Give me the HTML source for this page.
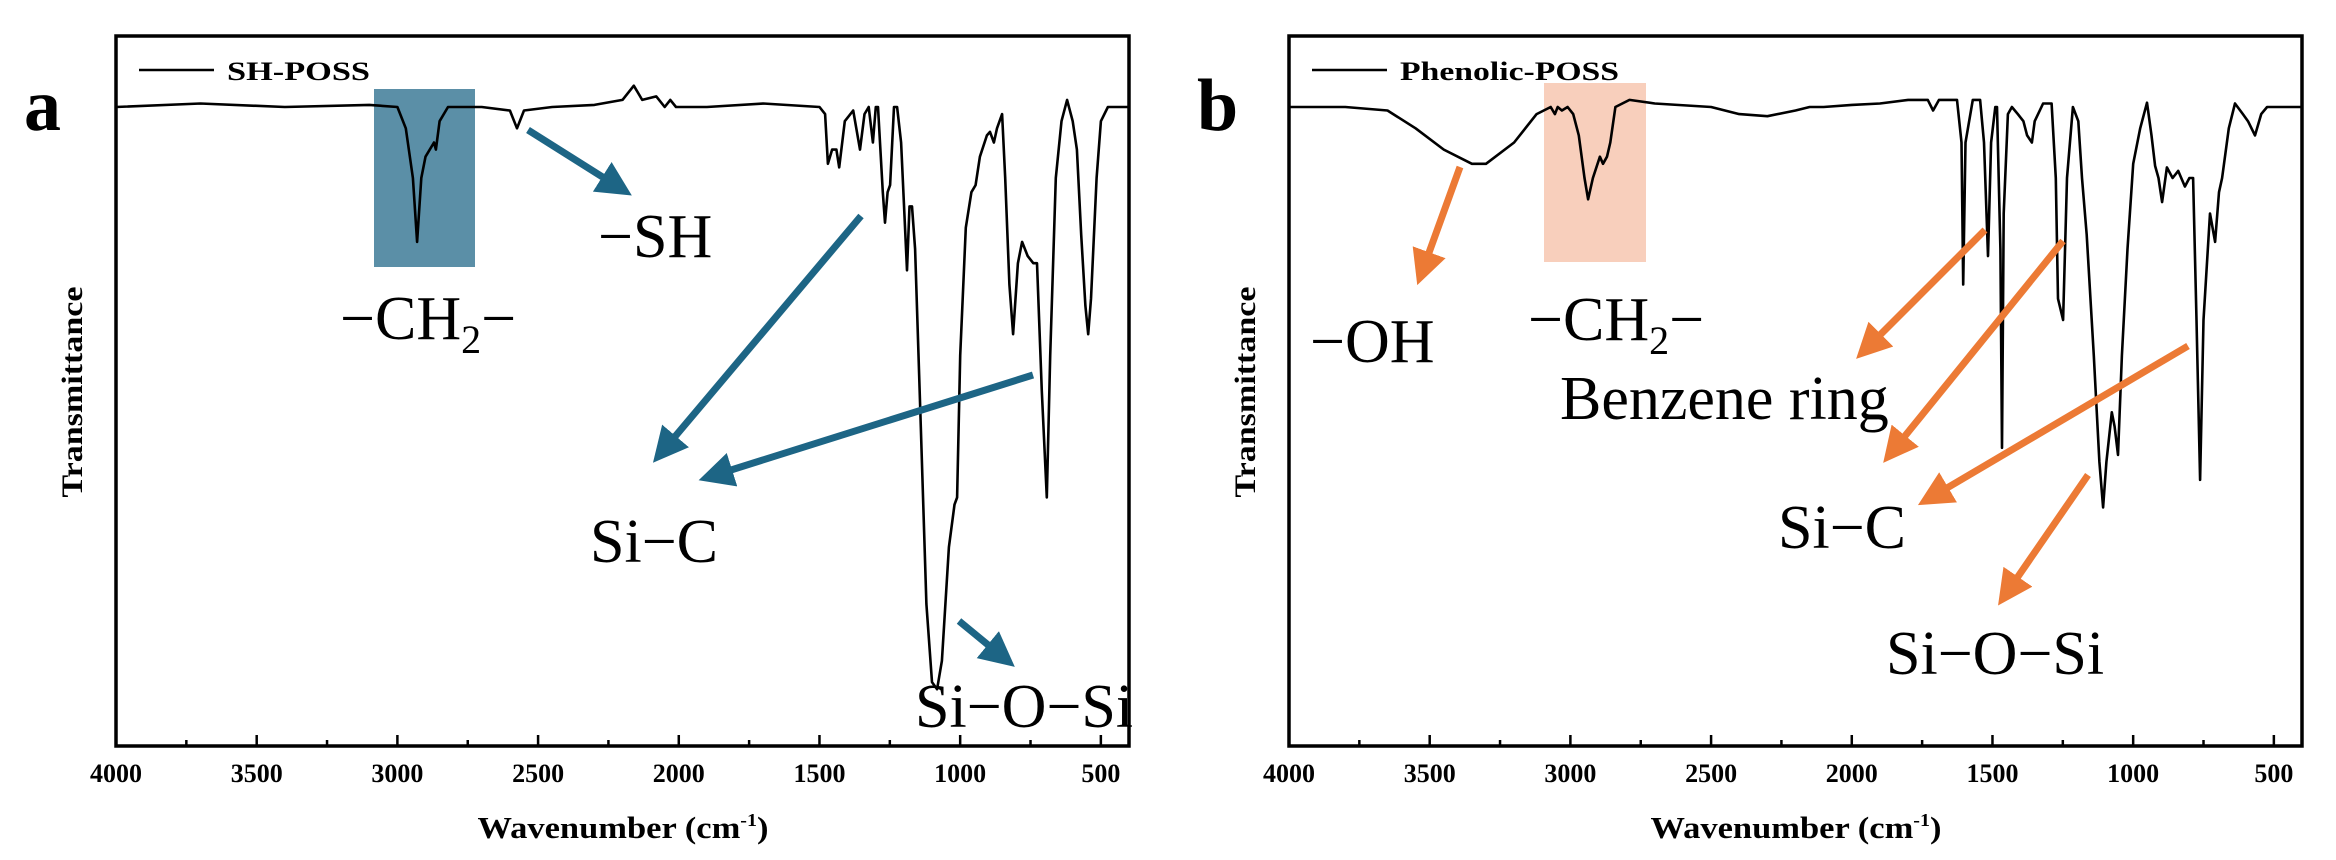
<!DOCTYPE html>
<html><head><meta charset="utf-8"><style>
html,body{margin:0;padding:0;background:#fff;}
svg{display:block;}
text{font-family:"Liberation Serif",serif;}
</style></head><body>
<svg id="fig" width="2336" height="860" viewBox="0 0 2336 860" xmlns="http://www.w3.org/2000/svg">
<defs>
<marker id="hb" markerWidth="6" markerHeight="6" refX="3" refY="2.5" orient="auto" markerUnits="strokeWidth"><path d="M0,0 L5,2.5 L0,5 Z" fill="#1d6585"/></marker>
<marker id="ho" markerWidth="6" markerHeight="6" refX="3" refY="2.5" orient="auto" markerUnits="strokeWidth"><path d="M0,0 L5,2.5 L0,5 Z" fill="#ec7a35"/></marker>
</defs>
<g id="panelA"></g>
<g id="panelB"></g>
</svg>
<script>
const tickValues = [4000,3500,3000,2500,2000,1500,1000,500];
const tickLabels = ["4000","3500","3000","2500","2000","1500","1000","500"];
const waveA = [4000,3700,3400,3100,3000,2970,2945,2930,2915,2900,2870,2863,2850,2820,2700,2600,2575,2550,2450,2300,2200,2160,2130,2080,2050,2030,2010,1900,1700,1500,1480,1470,1455,1440,1430,1410,1380,1356,1340,1325,1310,1300,1292,1275,1267,1258,1249,1235,1224,1210,1189,1180,1171,1160,1140,1120,1100,1082,1065,1040,1020,1011,1000,980,960,945,930,905,894,880,869,851,840,825,812,795,780,760,740,727,710,692,680,660,640,620,600,585,570,555,545,535,515,500,475,400];
const transA = [90,90.5,90,90.3,90,87,80,71,80,83,85,84,88,90,90,89.5,87,89.5,90,90.3,91,93,91,91.5,90,91,90,90,90.5,90,89,82,84,84,81.5,88,89.5,84,89,90,85,90,90,78,73.7,78,79,90,90,85,67,76,76,70,45,20,9,8,12,28,34,35,55,73,78,79,83,86,86.5,85,87,89,80,65,58,68,71,69,68,68,50,35,55,80,88,91,88,84,72,62,58,63,80,88,90,90];
const waveB = [4000,3800,3650,3550,3450,3350,3300,3200,3120,3070,3055,3045,3030,3010,2990,2970,2950,2937,2920,2895,2884,2870,2858,2840,2790,2700,2500,2400,2300,2200,2150,2100,2000,1900,1800,1730,1711,1690,1626,1610,1604,1596,1570,1544,1530,1516,1505,1490,1484,1472,1466,1460,1445,1431,1410,1390,1377,1360,1350,1320,1290,1275,1267,1249,1235,1214,1195,1182,1165,1140,1120,1107,1095,1076,1066,1054,1040,1020,1000,975,951,935,922,910,897,880,860,840,816,800,787,775,762,750,727,709,695,684,660,638,610,592,567,545,524,400];
const transB = [90,90,89.5,87,84,82,82,85,89,90,89,90,89.5,90,89,86,80,77,80,83,82,83,85,90,91,90.5,90,89,88.7,89.5,90,90,90.3,90.5,91,91,89.5,91,91,85,65,85,91,91,85,69,85,90,90,70,42,75,89,90,89,88,86,85,88,90.5,90.5,80,63,60,80,90,88,80,72,55,40,33.6,40,47,45,41,55,70,82,87,90.6,86,81.7,80,76.6,81.5,80,81,78.8,80,80,60,37.5,60,75,71,78,80,87,90.5,89,88,86,89,90,90];

const NS="http://www.w3.org/2000/svg";
function mk(parent,tag,attrs,txt){const e=document.createElementNS(NS,tag);for(const k in attrs)e.setAttribute(k,attrs[k]);if(txt!==undefined)e.textContent=txt;parent.appendChild(e);return e;}

function panel(gid,L,legendText,legendLen,waves,trans,letter,hl,hlColor){
  const g=document.getElementById(gid);
  const R=L+1013,T=36,B=746;
  const x=w=>L+(4000-w)*(R-L)/3600;
  const y=v=>B-v*(B-T)/100;
  const r=mk(g,'rect',{x:hl[0],y:hl[1],width:hl[2],height:hl[3],fill:hlColor});
  
  
  const pts=waves.map((w,i)=>x(w).toFixed(1)+','+y(trans[i]).toFixed(1)).join(' ');
  const pl=mk(g,'polyline',{points:pts,fill:'none',stroke:'#000','stroke-width':2.6,'stroke-linejoin':'round'});
  
  
  const fr=mk(g,'rect',{x:L,y:T,width:R-L,height:B-T,fill:'none',stroke:'#000','stroke-width':3.5});
  
  
  for(let w=3750;w>=500;w-=250){
    const major=(w%500===0);
    const t=mk(g,'line',{x1:x(w),x2:x(w),y1:B,y2:B-(major?11:6),stroke:'#000','stroke-width':2.5});
    
    
  }
  tickValues.forEach((v,i)=>{
    const t=mk(g,'text',{x:x(v),y:782,'text-anchor':'middle','font-size':26,'font-weight':'bold'},tickLabels[i]);
    
    
  });
  const xt=mk(g,'text',{x:(L+R)/2-145,y:838,'font-size':31,'font-weight':'bold',textLength:291,lengthAdjust:'spacingAndGlyphs'});
  
  
  xt.innerHTML='Wavenumber (cm<tspan dy="-12" font-size="18">-1</tspan><tspan dy="12">)</tspan>';
  const yt=mk(g,'text',{x:0,y:0,transform:`translate(${L-34},392) rotate(-90)`,'text-anchor':'middle','font-size':30,'font-weight':'bold',textLength:211,lengthAdjust:'spacingAndGlyphs'},'Transmittance');
  
  
  const ll=mk(g,'line',{x1:L+23,x2:L+98,y1:70,y2:70,stroke:'#000','stroke-width':2.6});
  
  
  const lt=mk(g,'text',{x:L+111,y:80,'font-size':26,'font-weight':'bold',textLength:legendLen,lengthAdjust:'spacingAndGlyphs'},legendText);
  
  
  const pl2=mk(g,'text',{x:L-92,y:130,'font-size':74,'font-weight':'bold'},letter);
  
  
}
panel('panelA',116,'SH-POSS',143,waveA,transA,'a',[374,89,101,178],'#5b8fa7');
panel('panelB',1289,'Phenolic-POSS',219,waveB,transB,'b',[1544,83,102,179],'#f8cfbc');

function arrow(gid,x1,y1,x2,y2,color,mid,name){
  const g=document.getElementById(gid);
  const a=mk(g,'line',{x1,y1,x2,y2,stroke:color,'stroke-width':7,'marker-end':`url(#${mid})`});
  
  
}
function label(gid,x0,y0,html,name,size){
  const g=document.getElementById(gid);
  const t=mk(g,'text',{x:x0,y:y0,'font-size':size||62});
  t.innerHTML=html;
  
  
}
const bl='#1d6585', or='#ec7a35';
arrow('panelA',528,130,620,188,bl,'hb','arrow-sh');
arrow('panelA',861,216,662,452,bl,'hb','arrow-si-c-1');
arrow('panelA',1033,375,712,476,bl,'hb','arrow-si-c-2');
arrow('panelA',959,621,1004,658,bl,'hb','arrow-si-o-si');
label('panelA',598,257,'−SH','label-sh');
label('panelA',340,339,'−CH<tspan dy="14" font-size="40">2</tspan><tspan dy="-14">−</tspan>','label-ch2');
label('panelA',590,562,'Si−C','label-si-c');
label('panelA',915,727,'Si−O−Si','label-si-o-si');

arrow('panelB',1460,167,1422,272,or,'ho','arrow-oh');
arrow('panelB',1985,230,1866,349,or,'ho','arrow-benzene');
arrow('panelB',2063,241,1892,452,or,'ho','arrow-si-c-1');
arrow('panelB',2188,346,1930,498,or,'ho','arrow-si-c-2');
arrow('panelB',2088,475,2006,594,or,'ho','arrow-si-o-si');
label('panelB',1310,362,'−OH','label-oh');
label('panelB',1528,340,'−CH<tspan dy="14" font-size="40">2</tspan><tspan dy="-14">−</tspan>','label-ch2');
label('panelB',1560,419,'Benzene ring','label-benzene-ring');
label('panelB',1778,548,'Si−C','label-si-c');
label('panelB',1886,674,'Si−O−Si','label-si-o-si');
</script>
</body></html>
